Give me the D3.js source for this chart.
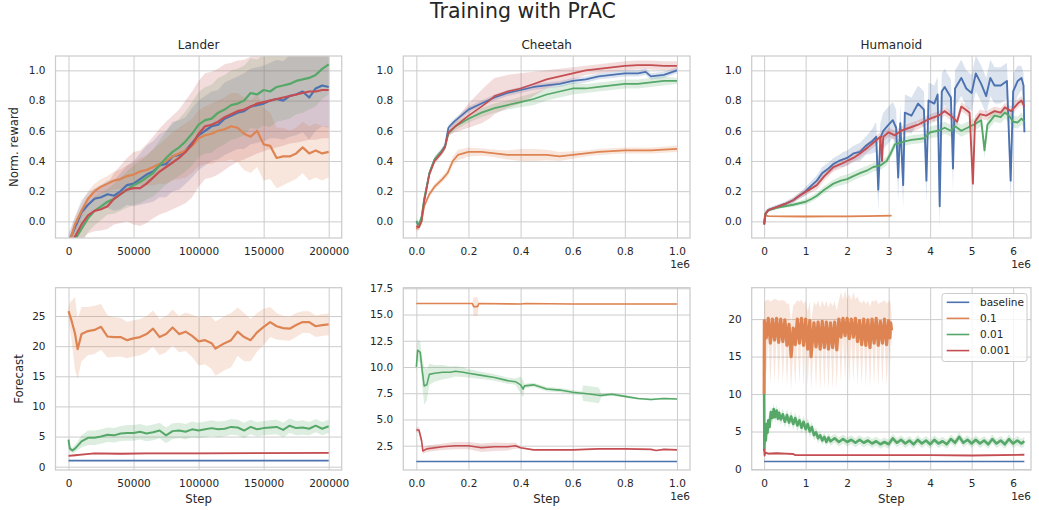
<!DOCTYPE html>
<html lang="en">
<head>
<meta charset="UTF-8">
<title>Training with PrAC</title>
<script src="https://cdnjs.cloudflare.com/ajax/libs/d3/7.8.5/d3.min.js"></script>
<style>
    body { margin: 0; background: #fff; }
    svg { display: block; font-family: "DejaVu Sans", sans-serif; }
</style>
</head>
<body>
<svg id="chart" width="1039" height="510"></svg>
<script>
    // series names / colours (seaborn "deep")
    const labels = ["baseline", "0.1", "0.01", "0.001"];
    const palette = ["#4c72b0", "#dd8452", "#55a868", "#c44e52"];

    // every row: [step, mean, half-width of band]
    // ---- Lander, normalised reward
    const landerRewBase = [
        [0,-0.14,0.06],[5000,-0.04,0.07],[10000,0.06,0.08],[15000,0.11,0.08],[20000,0.15,0.07],[25000,0.16,0.08],
        [30000,0.18,0.09],[35000,0.17,0.10],[40000,0.20,0.12],[45000,0.24,0.13],[50000,0.25,0.15],[55000,0.28,0.17],
        [60000,0.31,0.19],[65000,0.33,0.20],[70000,0.37,0.21],[75000,0.38,0.22],[80000,0.43,0.23],[85000,0.44,0.23],
        [90000,0.47,0.22],[95000,0.52,0.23],[100000,0.57,0.23],[105000,0.60,0.23],[110000,0.63,0.23],[115000,0.64,0.23],
        [120000,0.68,0.24],[125000,0.70,0.24],[130000,0.72,0.24],[135000,0.73,0.25],[140000,0.76,0.25],[145000,0.77,0.25],
        [150000,0.78,0.25],[155000,0.80,0.25],[160000,0.81,0.26],[165000,0.80,0.26],[170000,0.83,0.27],[175000,0.84,0.27],
        [180000,0.86,0.27],[185000,0.82,0.28],[190000,0.88,0.28],[195000,0.90,0.27],[200000,0.89,0.27]
    ];
    const landerRew01 = [
        [0,-0.16,0.05],[5000,-0.02,0.05],[10000,0.07,0.05],[15000,0.15,0.05],[20000,0.20,0.05],[25000,0.23,0.05],
        [30000,0.25,0.05],[35000,0.27,0.06],[40000,0.28,0.065],[45000,0.30,0.07],[50000,0.31,0.08],[55000,0.33,0.09],
        [60000,0.34,0.10],[65000,0.36,0.12],[70000,0.38,0.13],[75000,0.40,0.15],[80000,0.43,0.16],[85000,0.45,0.17],
        [90000,0.47,0.18],[95000,0.50,0.18],[100000,0.55,0.185],[105000,0.57,0.19],[110000,0.58,0.20],[115000,0.60,0.20],
        [120000,0.61,0.21],[125000,0.63,0.22],[130000,0.62,0.23],[135000,0.58,0.24],[140000,0.56,0.24],[145000,0.60,0.24],
        [150000,0.51,0.24],[155000,0.50,0.22],[160000,0.42,0.20],[165000,0.43,0.19],[170000,0.43,0.17],[175000,0.45,0.17],
        [180000,0.49,0.17],[185000,0.45,0.18],[190000,0.47,0.18],[195000,0.45,0.18],[200000,0.46,0.17]
    ];
    const landerRew001 = [
        [0,-0.25,0.10],[5000,-0.12,0.09],[10000,-0.05,0.085],[15000,0.02,0.09],[20000,0.07,0.095],[25000,0.10,0.09],
        [30000,0.13,0.085],[35000,0.15,0.10],[40000,0.18,0.11],[45000,0.21,0.12],[50000,0.24,0.13],[55000,0.26,0.14],
        [60000,0.29,0.145],[65000,0.32,0.155],[70000,0.37,0.165],[75000,0.42,0.175],[80000,0.46,0.185],[85000,0.49,0.19],
        [90000,0.53,0.20],[95000,0.58,0.21],[100000,0.64,0.215],[105000,0.67,0.22],[110000,0.68,0.225],[115000,0.72,0.23],
        [120000,0.74,0.23],[125000,0.77,0.23],[130000,0.78,0.23],[135000,0.80,0.23],[140000,0.85,0.23],[145000,0.84,0.23],
        [150000,0.87,0.235],[155000,0.86,0.235],[160000,0.89,0.23],[165000,0.90,0.23],[170000,0.91,0.23],[175000,0.93,0.22],
        [180000,0.94,0.22],[185000,0.95,0.21],[190000,0.97,0.21],[195000,1.01,0.20],[200000,1.04,0.20]
    ];
    const landerRew0001 = [
        [0,-0.22,0.10],[5000,-0.10,0.10],[10000,-0.02,0.11],[15000,0.04,0.12],[20000,0.07,0.135],[25000,0.08,0.14],
        [30000,0.10,0.15],[35000,0.15,0.17],[40000,0.18,0.19],[45000,0.21,0.21],[50000,0.22,0.24],[55000,0.22,0.25],
        [60000,0.25,0.26],[65000,0.29,0.27],[70000,0.33,0.285],[75000,0.36,0.30],[80000,0.39,0.31],[85000,0.42,0.32],
        [90000,0.46,0.34],[95000,0.51,0.35],[100000,0.58,0.35],[105000,0.63,0.35],[110000,0.64,0.35],[115000,0.66,0.35],
        [120000,0.69,0.35],[125000,0.71,0.34],[130000,0.73,0.335],[135000,0.74,0.33],[140000,0.76,0.33],[145000,0.78,0.33],
        [150000,0.79,0.325],[155000,0.80,0.32],[160000,0.81,0.32],[165000,0.82,0.32],[170000,0.83,0.315],[175000,0.84,0.32],
        [180000,0.85,0.32],[185000,0.86,0.32],[190000,0.86,0.32],[195000,0.87,0.32],[200000,0.87,0.32]
    ];

    // ---- Cheetah, normalised reward (steps in 1e6)
    const cheetahRewBase = [
        [0,0.0,0.01],[0.01,-0.03,0.02],[0.02,0.02,0.02],[0.03,0.14,0.02],[0.05,0.32,0.02],[0.07,0.41,0.02],
        [0.095,0.46,0.02],[0.11,0.50,0.02],[0.123,0.62,0.02],[0.145,0.66,0.02],[0.2,0.74,0.02],[0.25,0.78,0.02],
        [0.3,0.82,0.02],[0.35,0.85,0.02],[0.4,0.87,0.02],[0.45,0.89,0.02],[0.5,0.90,0.02],[0.55,0.91,0.02],
        [0.6,0.93,0.02],[0.65,0.94,0.02],[0.7,0.96,0.02],[0.75,0.97,0.02],[0.8,0.98,0.02],[0.85,0.98,0.02],
        [0.88,0.99,0.02],[0.9,0.96,0.02],[0.95,0.97,0.02],[1.0,1.0,0.02]
    ];
    const cheetahRew01 = [
        [0,-0.05,0.02],[0.01,-0.03,0.02],[0.02,0.0,0.02],[0.03,0.10,0.02],[0.05,0.18,0.02],[0.07,0.23,0.02],
        [0.1,0.28,0.02],[0.12,0.32,0.025],[0.14,0.40,0.03],[0.16,0.44,0.035],[0.2,0.46,0.03],[0.25,0.46,0.025],
        [0.3,0.45,0.025],[0.35,0.44,0.03],[0.4,0.44,0.04],[0.45,0.44,0.04],[0.5,0.44,0.035],[0.55,0.43,0.03],
        [0.6,0.44,0.025],[0.65,0.45,0.02],[0.7,0.46,0.02],[0.8,0.47,0.02],[0.9,0.47,0.02],[1.0,0.48,0.02]
    ];
    const cheetahRew001 = [
        [0,0.0,0.02],[0.01,-0.02,0.02],[0.02,0.03,0.02],[0.03,0.15,0.02],[0.05,0.32,0.02],[0.07,0.41,0.02],
        [0.095,0.46,0.02],[0.11,0.49,0.02],[0.123,0.58,0.02],[0.15,0.63,0.025],[0.2,0.68,0.025],[0.25,0.72,0.03],
        [0.3,0.75,0.03],[0.35,0.77,0.03],[0.4,0.79,0.035],[0.45,0.81,0.04],[0.5,0.84,0.04],[0.55,0.86,0.04],
        [0.6,0.88,0.04],[0.65,0.88,0.03],[0.7,0.89,0.03],[0.75,0.90,0.03],[0.8,0.91,0.03],[0.85,0.91,0.03],
        [0.9,0.92,0.03],[0.95,0.93,0.03],[1.0,0.93,0.02]
    ];
    const cheetahRew0001 = [
        [0,-0.03,0.02],[0.01,-0.04,0.02],[0.02,0.0,0.02],[0.03,0.13,0.02],[0.05,0.31,0.02],[0.07,0.40,0.02],
        [0.095,0.45,0.02],[0.11,0.49,0.02],[0.123,0.59,0.02],[0.15,0.63,0.04],[0.2,0.70,0.08],[0.25,0.76,0.11],
        [0.28,0.80,0.12],[0.3,0.83,0.12],[0.35,0.86,0.11],[0.4,0.88,0.10],[0.45,0.91,0.08],[0.5,0.94,0.06],
        [0.55,0.96,0.05],[0.6,0.98,0.04],[0.65,1.0,0.03],[0.7,1.01,0.03],[0.75,1.02,0.03],[0.8,1.03,0.03],
        [0.85,1.035,0.03],[0.9,1.035,0.03],[0.95,1.03,0.03],[1.0,1.03,0.03]
    ];

    // ---- Humanoid, normalised reward (steps in 1e6)
    const humRewBase = [
        [0,-0.02,0.01],[0.03,0.05,0.02],[0.1,0.075,0.015],[0.3,0.095,0.015],[0.5,0.115,0.015],[0.7,0.14,0.02],
        [0.85,0.17,0.02],[1.0,0.20,0.03],[1.15,0.24,0.03],[1.27,0.27,0.035],[1.4,0.32,0.04],[1.55,0.35,0.04],
        [1.67,0.38,0.04],[1.8,0.40,0.04],[1.9,0.41,0.05],[2.0,0.42,0.05],[2.15,0.45,0.05],[2.31,0.46,0.06],
        [2.45,0.50,0.06],[2.6,0.53,0.08],[2.7,0.56,0.1],[2.75,0.21,0.15],[2.8,0.55,0.1],[2.87,0.60,0.12],
        [3.0,0.64,0.12],[3.1,0.67,0.12],[3.18,0.62,0.12],[3.23,0.29,0.15],[3.28,0.65,0.12],[3.35,0.24,0.15],
        [3.39,0.72,0.12],[3.55,0.70,0.12],[3.71,0.78,0.12],[3.85,0.74,0.12],[3.91,0.27,0.15],[3.96,0.80,0.12],
        [4.1,0.78,0.12],[4.18,0.84,0.12],[4.23,0.10,0.15],[4.28,0.86,0.12],[4.35,0.89,0.12],[4.5,0.82,0.12],
        [4.55,0.35,0.15],[4.6,0.88,0.12],[4.75,0.95,0.12],[4.87,0.88,0.12],[5.0,0.85,0.12],[5.1,0.98,0.12],
        [5.23,0.91,0.12],[5.35,0.83,0.12],[5.45,0.95,0.12],[5.55,0.90,0.12],[5.7,0.90,0.12],[5.85,0.93,0.12],
        [5.94,0.27,0.15],[6.0,0.86,0.12],[6.11,0.93,0.1],[6.2,0.95,0.08],[6.25,0.90,0.08],[6.27,0.59,0.08]
    ];
    const humRew01 = [
        [0,-0.02,0.005],[0.02,0.04,0.005],[0.1,0.035,0.005],[0.5,0.033,0.005],[1.0,0.032,0.005],
        [1.5,0.033,0.005],[2.0,0.033,0.005],[2.5,0.035,0.005],[3.07,0.038,0.005]
    ];
    const humRew001 = [
        [0,-0.02,0.01],[0.03,0.05,0.01],[0.1,0.075,0.01],[0.3,0.09,0.01],[0.5,0.10,0.01],[0.7,0.11,0.015],
        [0.85,0.12,0.015],[1.0,0.13,0.02],[1.15,0.15,0.02],[1.27,0.17,0.02],[1.45,0.21,0.025],[1.67,0.25,0.025],
        [1.85,0.27,0.03],[2.0,0.28,0.03],[2.15,0.30,0.03],[2.31,0.32,0.03],[2.5,0.34,0.03],[2.63,0.36,0.03],
        [2.8,0.37,0.03],[2.95,0.40,0.03],[3.05,0.45,0.03],[3.15,0.51,0.03],[3.39,0.53,0.03],[3.55,0.54,0.03],
        [3.71,0.545,0.03],[3.85,0.55,0.03],[4.0,0.59,0.04],[4.2,0.60,0.04],[4.35,0.62,0.04],[4.5,0.60,0.04],
        [4.6,0.63,0.04],[4.75,0.60,0.04],[4.9,0.62,0.04],[5.05,0.64,0.04],[5.23,0.67,0.04],[5.31,0.47,0.05],
        [5.38,0.64,0.04],[5.55,0.70,0.04],[5.7,0.69,0.04],[5.8,0.72,0.04],[5.9,0.70,0.04],[6.0,0.66,0.04],
        [6.11,0.655,0.04],[6.2,0.68,0.04],[6.27,0.66,0.04]
    ];
    const humRew0001 = [
        [0,-0.02,0.01],[0.03,0.05,0.01],[0.1,0.075,0.01],[0.3,0.095,0.01],[0.5,0.115,0.01],[0.7,0.14,0.015],
        [0.85,0.17,0.02],[1.0,0.195,0.02],[1.15,0.22,0.025],[1.27,0.24,0.03],[1.45,0.30,0.03],[1.67,0.36,0.03],
        [1.85,0.38,0.03],[2.0,0.40,0.03],[2.15,0.42,0.03],[2.31,0.45,0.03],[2.5,0.49,0.03],[2.63,0.52,0.03],
        [2.8,0.56,0.03],[2.84,0.40,0.04],[2.87,0.56,0.03],[3.0,0.59,0.03],[3.15,0.57,0.03],[3.3,0.60,0.03],
        [3.5,0.62,0.03],[3.71,0.64,0.03],[3.85,0.66,0.03],[4.0,0.68,0.03],[4.2,0.70,0.03],[4.35,0.73,0.03],
        [4.5,0.70,0.03],[4.65,0.66,0.03],[4.75,0.76,0.03],[4.95,0.72,0.03],[5.03,0.25,0.05],[5.08,0.66,0.04],
        [5.2,0.71,0.03],[5.35,0.70,0.03],[5.55,0.73,0.03],[5.7,0.72,0.03],[5.8,0.755,0.03],[5.95,0.73,0.03],
        [6.11,0.78,0.03],[6.2,0.80,0.03],[6.27,0.76,0.03]
    ];

    // ---- Lander, forecast
    const landerFcBase = [[0,1,0],[200000,1,0]];
    const landerFc01 = [
        [0,25.8,0.8],[2000,24.5,3],[5000,22.1,6],[7000,19.5,5],[10000,22,4.5],[15000,22.5,4],[20000,22.7,4],
        [25000,23.2,3.8],[30000,21.6,3.5],[35000,21.5,3.3],[40000,21.5,3.2],[45000,21,3],[50000,21.3,3],
        [55000,21.5,3],[60000,22,3],[65000,22.9,3],[70000,21.5,3],[75000,22,3],[80000,23.1,3],[85000,22,3],
        [90000,22.4,3.2],[95000,21.7,3.5],[100000,20.8,4],[105000,21,4],[110000,20.5,4.3],[113000,19.6,4.5],
        [120000,20.5,4.5],[125000,21,4.5],[130000,22.4,4],[135000,21.5,4],[140000,21.0,3.5],[145000,22.3,3.2],
        [150000,23.2,3],[155000,24,2.5],[160000,23.3,2.2],[165000,23,2],[170000,22.9,2],[175000,23.5,2],
        [180000,24,1.8],[185000,24,1.8],[190000,23.3,1.8],[195000,23.5,1.8],[200000,23.6,1.8]
    ];
    const landerFc001 = [
        [0,4.5,0.3],[1000,3.0,0.4],[3000,2.7,0.5],[5000,3.0,0.6],[8000,3.7,0.8],[10000,4.2,1.0],[15000,4.8,1.2],
        [20000,4.8,1.2],[25000,5.0,1.2],[30000,5.3,1.2],[35000,5.2,1.2],[40000,5.5,1.25],[45000,5.6,1.3],
        [50000,5.6,1.3],[55000,5.8,1.3],[60000,5.5,1.3],[65000,5.7,1.3],[70000,6.0,1.3],[75000,5.2,1.3],
        [80000,5.9,1.3],[85000,6.0,1.3],[90000,5.8,1.3],[95000,6.2,1.3],[100000,6.0,1.3],[105000,6.2,1.3],
        [110000,6.4,1.3],[115000,6.2,1.3],[120000,6.3,1.3],[125000,6.6,1.3],[130000,6.5,1.3],[135000,6.0,1.3],
        [140000,6.6,1.2],[145000,6.2,1.2],[150000,6.4,1.2],[155000,6.5,1.2],[160000,6.6,1.2],[165000,6.1,1.2],
        [170000,6.8,1.2],[175000,6.4,1.2],[180000,6.5,1.2],[185000,6.3,1.1],[190000,6.8,1.1],[195000,6.3,1.1],
        [200000,6.7,1.1]
    ];
    const landerFc0001 = [
        [0,1.8,0.15],[5000,1.9,0.15],[10000,2.0,0.15],[20000,2.2,0.15],[40000,2.15,0.15],[60000,2.2,0.15],
        [100000,2.2,0.15],[150000,2.25,0.15],[200000,2.3,0.15]
    ];

    // ---- Cheetah, forecast (steps in 1e6)
    const cheetahFcBase = [[0,1,0],[1.0,1,0]];
    const cheetahFc01 = [
        [0,16.05,0.05],[0.2,16.05,0.05],[0.215,16.05,0.05],[0.22,15.75,0.9],[0.235,15.75,0.9],[0.24,16.05,0.05],
        [0.4,16.0,0.05],[0.42,16.05,0.05],[0.6,16.0,0.05],[0.8,16.0,0.05],[1.0,16.0,0.05]
    ];
    const cheetahFc001 = [
        [0,10.0,0.5],[0.005,11.6,1.0],[0.015,11.4,1.0],[0.02,10.2,1.2],[0.03,8.2,1.8],[0.04,8.3,1.5],
        [0.05,9.3,1.0],[0.07,9.4,0.8],[0.1,9.5,0.7],[0.13,9.5,0.55],[0.15,9.6,0.5],[0.18,9.5,0.45],
        [0.2,9.4,0.4],[0.25,9.2,0.35],[0.3,9.0,0.3],[0.35,8.7,0.3],[0.38,8.6,0.3],[0.4,8.3,0.8],
        [0.41,7.9,0.8],[0.415,8.2,0.2],[0.45,8.3,0.2],[0.5,7.9,0.2],[0.55,7.8,0.2],[0.6,7.6,0.2],
        [0.635,7.5,0.2],[0.64,7.5,0.75],[0.7,7.3,0.75],[0.71,7.3,0.15],[0.75,7.4,0.15],[0.8,7.2,0.12],
        [0.85,7.0,0.1],[0.9,6.9,0.1],[0.95,7.0,0.1],[1.0,6.95,0.1]
    ];
    const cheetahFc0001 = [
        [0,4.0,0.2],[0.01,4.0,0.3],[0.02,3.0,0.4],[0.025,2.0,0.3],[0.04,2.2,0.3],[0.1,2.4,0.3],
        [0.15,2.5,0.35],[0.2,2.5,0.35],[0.25,2.3,0.4],[0.3,2.4,0.4],[0.35,2.4,0.35],[0.38,2.5,0.3],
        [0.4,2.3,0.1],[0.45,2.1,0.05],[0.5,2.1,0.05],[0.6,2.1,0.05],[0.7,2.2,0.05],[0.8,2.2,0.05],
        [0.9,2.15,0.05],[0.92,2.05,0.05],[0.95,2.15,0.05],[1.0,2.1,0.05]
    ];

    // ---- Humanoid, forecast (steps in 1e6)
    const humFcBase = [[0,1,0],[6.27,1,0]];
    const humFc01 = [
        [0,10,0],[0.005,19.8,2.5],[0.05,17.5,5],[0.1,20.1,2.5],[0.15,16.8,5.5],[0.2,20.0,2.5],[0.25,17.2,5.5],
        [0.3,20.1,2.5],[0.35,16.9,5.5],[0.4,20.0,2.5],[0.45,17.0,5.5],[0.5,19.9,2.5],[0.55,16.5,5.5],
        [0.6,19.3,2.8],[0.65,15.0,4.5],[0.7,18.8,3],[0.75,16.6,5.5],[0.8,20.0,2.5],[0.85,16.8,5.5],
        [0.9,20.1,2.5],[0.95,16.5,5.5],[1.0,20.0,2.5],[1.05,16.0,5],[1.1,19.8,2.5],[1.13,15.0,4.5],
        [1.2,19.5,2.8],[1.25,16.3,5.5],[1.3,19.6,2.8],[1.35,16.0,5.5],[1.4,19.7,2.8],[1.45,16.2,5.5],
        [1.5,19.6,2.8],[1.55,16.0,5.5],[1.6,19.5,2.8],[1.65,16.2,5.5],[1.7,19.6,2.8],[1.75,15.9,5.2],
        [1.8,20.0,2.5],[1.85,17.6,6],[1.9,20.1,2.5],[1.95,17.8,6],[2.0,20.1,2.5],[2.05,17.4,6],
        [2.1,20.0,2.5],[2.15,17.6,6],[2.2,20.1,2.5],[2.25,17.0,6],[2.3,19.8,2.5],[2.35,16.6,5.5],
        [2.4,20.0,2.5],[2.45,16.5,5.5],[2.5,19.9,2.5],[2.55,16.2,5.5],[2.6,20.0,2.5],[2.65,16.8,5.5],
        [2.7,20.1,2.5],[2.75,16.5,5.5],[2.8,19.7,2.5],[2.85,16.8,5.5],[2.9,20.0,2.5],[2.95,16.6,5.5],
        [3.0,19.8,2.5],[3.03,17.5,5],[3.05,19.5,2.5],[3.07,18.5,2]
    ];
    const humFc001 = [
        [0,10.0,0],[0.005,2.5,0.5],[0.02,5.5,0.8],[0.04,3.8,0.8],[0.06,6.0,0.8],[0.08,4.8,0.8],[0.1,6.5,0.8],
        [0.13,5.6,0.8],[0.16,7.6,0.8],[0.2,6.8,0.8],[0.23,8.0,0.8],[0.26,6.9,0.8],[0.3,7.8,0.8],[0.33,6.7,0.8],
        [0.36,7.5,0.8],[0.4,6.6,0.8],[0.45,7.3,0.8],[0.5,6.3,0.8],[0.55,7.2,0.8],[0.6,6.2,0.8],[0.65,7.0,0.8],
        [0.7,6.0,0.8],[0.75,6.8,0.8],[0.8,5.8,0.8],[0.85,6.5,0.8],[0.9,5.5,0.8],[0.95,6.3,0.8],[1.0,5.3,0.8],
        [1.05,6.0,0.8],[1.1,5.0,0.8],[1.15,5.6,0.7],[1.2,4.5,0.7],[1.25,4.9,0.7],[1.3,4.1,0.7],[1.35,4.5,0.6],
        [1.4,3.8,0.6],[1.45,4.3,0.6],[1.5,3.6,0.6],[1.55,4.2,0.6],[1.6,3.7,0.6],[1.7,4.1,0.6],[1.8,3.6,0.6],
        [1.9,4.0,0.6],[2.0,3.6,0.6],[2.1,3.9,0.6],[2.2,3.5,0.6],[2.3,3.9,0.6],[2.4,3.5,0.6],[2.5,3.8,0.6],
        [2.6,3.4,0.6],[2.7,3.7,0.6],[2.8,3.3,0.6],[2.9,3.6,0.6],[3.0,3.3,0.6],[3.1,4.1,0.6],[3.2,3.5,0.6],
        [3.3,3.9,0.6],[3.4,3.4,0.6],[3.5,3.8,0.6],[3.6,3.3,0.6],[3.7,3.9,0.6],[3.8,3.4,0.6],[3.9,3.8,0.6],
        [4.0,3.3,0.6],[4.1,3.9,0.6],[4.2,3.4,0.6],[4.3,3.7,0.6],[4.4,3.3,0.6],[4.5,4.0,0.6],[4.6,3.5,0.6],
        [4.7,4.3,0.6],[4.8,3.5,0.6],[4.9,3.9,0.6],[5.0,3.4,0.6],[5.1,3.9,0.6],[5.2,3.4,0.6],[5.3,3.8,0.6],
        [5.4,3.3,0.6],[5.5,4.0,0.6],[5.6,3.4,0.6],[5.7,3.8,0.6],[5.8,3.3,0.6],[5.9,4.0,0.6],[6.0,3.4,0.6],
        [6.1,3.8,0.6],[6.2,3.4,0.6],[6.27,3.7,0.6]
    ];
    const humFc0001 = [
        [0,2.7,0.1],[0.01,1.8,0.2],[0.03,2.2,0.2],[0.1,2.05,0.2],[0.3,2.1,0.15],[0.5,2.05,0.15],[0.7,2.0,0.1],
        [0.75,1.85,0.05],[1.0,1.85,0.05],[2.0,1.85,0.05],[3.0,1.85,0.05],[4.0,1.85,0.05],[5.0,1.8,0.05],[6.27,1.9,0.05]
    ];

    // ticks
    const rewardTicks = [0, 0.2, 0.4, 0.6, 0.8, 1.0];
    const landerSteps = [0, 50000, 100000, 150000, 200000];
    const cheetahSteps = [0, 0.2, 0.4, 0.6, 0.8, 1.0];
    const humSteps = [0, 1, 2, 3, 4, 5, 6];

    // layout (pixel frames of the 2x3 grid)
    const cols = [[55.5, 341.7], [403.3, 690], [751.7, 1031]];
    const rows = [[56, 238], [287.7, 470]];

    // lw: line width per series (baseline, 0.1, 0.01, 0.001)
    const panels = [
        { r: 0, c: 0, title: "Lander", xd: [-10000, 210000], xt: landerSteps, xf: d3.format("d"),
          yd: [-0.11, 1.095], yt: rewardTicks, yf: d3.format(".1f"), lw: [2.2, 2.2, 2.2, 2.2],
          series: [landerRewBase, landerRew01, landerRew001, landerRew0001] },
        { r: 0, c: 1, title: "Cheetah", xd: [-0.05, 1.05], xt: cheetahSteps, xf: d3.format(".1f"), off: true,
          yd: [-0.11, 1.095], yt: rewardTicks, yf: d3.format(".1f"), lw: [1.7, 1.7, 1.7, 1.7],
          series: [cheetahRewBase, cheetahRew01, cheetahRew001, cheetahRew0001] },
        { r: 0, c: 2, title: "Humanoid", xd: [-0.3, 6.43], xt: humSteps, xf: d3.format("d"), off: true,
          yd: [-0.11, 1.095], yt: rewardTicks, yf: d3.format(".1f"), lw: [1.9, 1.9, 1.9, 1.9],
          series: [humRewBase, humRew01, humRew001, humRew0001] },
        { r: 1, c: 0, xd: [-10000, 210000], xt: landerSteps, xf: d3.format("d"),
          yd: [-0.55, 29.7], yt: [0, 5, 10, 15, 20, 25], yf: d3.format("d"), lw: [1.6, 2.2, 2.0, 1.8],
          series: [landerFcBase, landerFc01, landerFc001, landerFc0001] },
        { r: 1, c: 1, xd: [-0.05, 1.05], xt: cheetahSteps, xf: d3.format(".1f"), off: true,
          yd: [0.184, 17.557], yt: [2.5, 5, 7.5, 10, 12.5, 15, 17.5], yf: d3.format(".1f"), lw: [1.6, 1.6, 1.6, 1.6],
          series: [cheetahFcBase, cheetahFc01, cheetahFc001, cheetahFc0001] },
        { r: 1, c: 2, xd: [-0.3, 6.43], xt: humSteps, xf: d3.format("d"), off: true, legend: true,
          yd: [-0.134, 24.19], yt: [0, 5, 10, 15, 20], yf: d3.format("d"), lw: [1.6, 3.2, 2.6, 1.8],
          series: [humFcBase, humFc01, humFc001, humFc0001] }
    ];

    const svg = d3.select("#chart");
    const ink = "#262626", gridCol = "#cccccc";

    svg.append("text").attr("x", 523).attr("y", 18).attr("text-anchor", "middle")
        .attr("font-size", "20.5px").attr("fill", ink).text("Training with PrAC");

    panels.forEach((p, i) => {
        const [x0, x1] = cols[p.c], [y0, y1] = rows[p.r];
        const x = d3.scaleLinear().domain(p.xd).range([x0, x1]);
        const y = d3.scaleLinear().domain(p.yd).range([y1, y0]);
        const g = svg.append("g");

        g.append("clipPath").attr("id", "clip" + i).append("rect")
            .attr("x", x0).attr("y", y0).attr("width", x1 - x0).attr("height", y1 - y0);

        const gx = g.append("g").attr("transform", `translate(0,${y1})`)
            .call(d3.axisBottom(x).tickValues(p.xt).tickFormat(p.xf).tickSize(-(y1 - y0)).tickPadding(9.5));
        const gy = g.append("g").attr("transform", `translate(${x0},0)`)
            .call(d3.axisLeft(y).tickValues(p.yt).tickFormat(p.yf).tickSize(-(x1 - x0)).tickPadding(10));
        [gx, gy].forEach(a => {
            a.attr("font-family", null).attr("font-size", null);
            a.select(".domain").remove();
            a.selectAll(".tick line").attr("stroke", gridCol).attr("stroke-width", 1);
            a.selectAll(".tick text").attr("fill", ink).style("font-size", "10.5px");
        });

        const plot = g.append("g").attr("clip-path", `url(#clip${i})`);
        const band = d3.area().x(d => x(d[0])).y0(d => y(d[1] - d[2])).y1(d => y(d[1] + d[2]));
        const line = d3.line().x(d => x(d[0])).y(d => y(d[1]));

        // bands sit below every line, as in matplotlib
        p.series.forEach((s, k) => {
            plot.append("path").datum(s).attr("d", band)
                .attr("fill", palette[k]).attr("fill-opacity", 0.2);
        });
        p.series.forEach((s, k) => {
            plot.append("path").datum(s).attr("d", line)
                .attr("fill", "none").attr("stroke", palette[k])
                .attr("stroke-width", p.lw[k]).attr("stroke-linejoin", "round");
        });

        g.append("rect").attr("x", x0).attr("y", y0).attr("width", x1 - x0).attr("height", y1 - y0)
            .attr("fill", "none").attr("stroke", gridCol).attr("stroke-width", 1.25);

        if (p.title) {
            g.append("text").attr("x", (x0 + x1) / 2).attr("y", 48.5).attr("text-anchor", "middle")
                .attr("font-size", "12px").attr("fill", ink).text(p.title);
        }
        if (p.off) {
            g.append("text").attr("x", x1).attr("y", y1 + 30).attr("text-anchor", "end")
                .attr("font-size", "10.5px").attr("fill", ink).text("1e6");
        }
        if (p.r === 1) {
            g.append("text").attr("x", (x0 + x1) / 2).attr("y", 503).attr("text-anchor", "middle")
                .attr("font-size", "11.7px").attr("fill", ink).text("Step");
        }
        if (p.legend) {
            const lg = g.append("g");
            lg.append("rect").attr("x", 942).attr("y", 293.5).attr("width", 85).attr("height", 68)
                .attr("rx", 2.5).attr("fill", "#fff").attr("fill-opacity", 0.8).attr("stroke", gridCol);
            labels.forEach((l, k) => {
                const yy = 302.3 + k * 16.1;
                lg.append("line").attr("x1", 946.7).attr("x2", 969.3).attr("y1", yy).attr("y2", yy)
                    .attr("stroke", palette[k]).attr("stroke-width", 1.6);
                lg.append("text").attr("x", 980).attr("y", yy + 3.8).attr("font-size", "10.5px")
                    .attr("fill", ink).text(l);
            });
        }
    });

    svg.append("text").attr("transform", "translate(18.2,147) rotate(-90)").attr("text-anchor", "middle")
        .attr("font-size", "11.7px").attr("fill", ink).text("Norm. reward");
    svg.append("text").attr("transform", "translate(22.5,379) rotate(-90)").attr("text-anchor", "middle")
        .attr("font-size", "11.7px").attr("fill", ink).text("Forecast");
</script>
</body>
</html>
